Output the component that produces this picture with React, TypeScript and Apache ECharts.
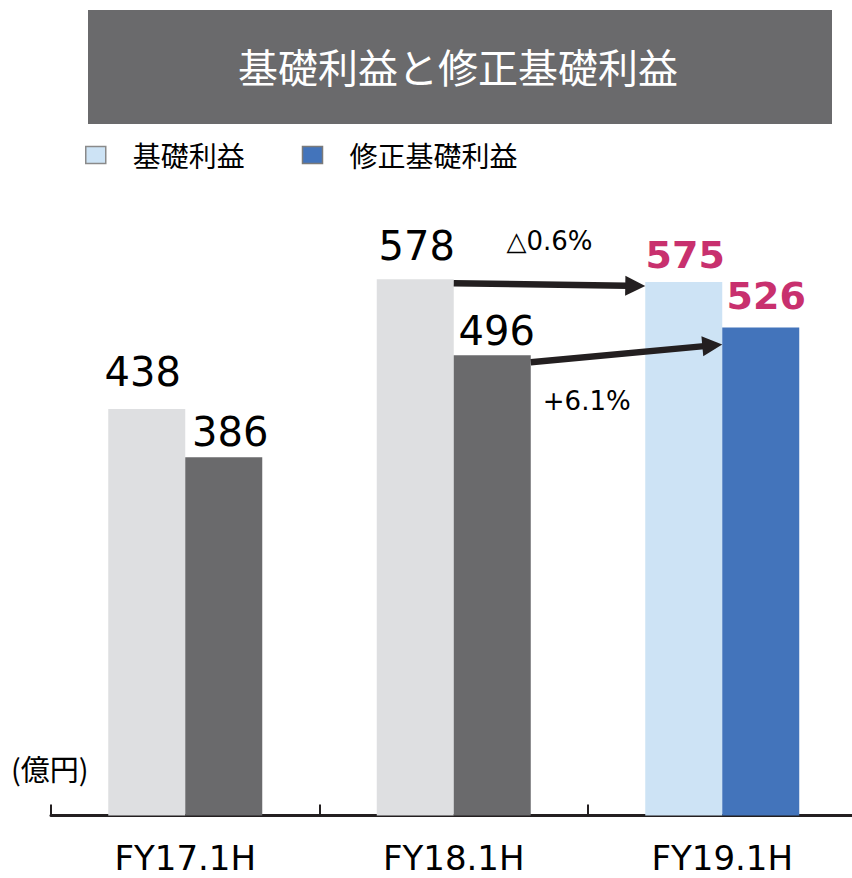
import React, { useEffect, useRef } from "react";
import * as echarts from "echarts";

const categories = ["FY17.1H", "FY18.1H", "FY19.1H"];
const basicProfit = [438, 578, 575];
const adjustedProfit = [386, 496, 526];
const changeLabels = ["△0.6%", "+6.1%"];
const titleText = "基礎利益と修正基礎利益";
const seriesNames = ["基礎利益", "修正基礎利益"];
const unitText = "(億円)";

// styling: label nudges (px) per bar, as in the source slide
const labelDx = [
  [-4, 1.5, 1.5],
  [6.5, 4.5, 5.5],
];
const labelDist = [
  [17, 13, 8],
  [5, 4, 12],
];

const BAR_W = 77;
const NUM_FONT = "'DejaVu Sans', Verdana, sans-serif";
const CJK_FONT = "'Noto Sans CJK JP', 'Noto Sans', sans-serif";

const LIGHT_GRAY = "#DEDFE1";
const DARK_GRAY = "#6A6A6C";
const LIGHT_BLUE = "#CDE3F5";
const BLUE = "#4374BB";
const MAGENTA = "#C8306E";
const INK = "#231F20";

function buildData(values: number[], s: number, pastColor: string, nowColor: string) {
  return values.map((v, i) => {
    const last = i === values.length - 1;
    return {
      value: v,
      itemStyle: { color: last ? nowColor : pastColor },
      label: {
        color: last ? MAGENTA : "#000",
        fontWeight: last ? "bold" : "normal",
        fontSize: last ? 38 : 40,
        distance: labelDist[s][i],
        offset: [labelDx[s][i], 0],
      },
    };
  });
}

function arrow(sx: number, sy: number, ex: number, ey: number) {
  const L = 20;
  const W = 10;
  const len = Math.hypot(ex - sx, ey - sy);
  const dx = (ex - sx) / len;
  const dy = (ey - sy) / len;
  const nx = -dy;
  const ny = dx;
  const bx = ex - dx * L;
  const by = ey - dy * L;
  return [
    {
      type: "line",
      shape: { x1: sx, y1: sy, x2: bx + dx * 2, y2: by + dy * 2 },
      style: { stroke: INK, lineWidth: 6.5 },
      z: 10,
    },
    {
      type: "polygon",
      shape: {
        points: [
          [ex, ey],
          [bx + nx * W, by + ny * W],
          [bx - nx * W, by - ny * W],
        ],
      },
      style: { fill: INK },
      z: 10,
    },
  ];
}

export default function App() {
  const ref = useRef<HTMLDivElement>(null);

  useEffect(() => {
    document.body.style.margin = "0";
    const chart = echarts.init(ref.current!, null, { renderer: "svg" });
    const titleRect = {
      type: "rect",
      shape: { x: 88, y: 10, width: 744, height: 114 },
      style: { fill: DARK_GRAY },
      z: -1,
    };
    const option: any = {
      animation: false,
      backgroundColor: "#fff",
      title: {
        text: titleText,
        left: 453,
        top: 41,
        textAlign: "center",
        textStyle: {
          color: "#fff",
          fontSize: 40,
          fontWeight: "normal",
          fontFamily: CJK_FONT,
        },
      },
      legend: {
        left: 85,
        top: 141,
        padding: 0,
        itemWidth: 20,
        itemHeight: 17,
        itemGap: 57,
        icon: "rect",
        textStyle: {
          fontSize: 28,
          color: "#000",
          fontFamily: CJK_FONT,
          padding: [0, 0, 0, 22],
        },
        data: [
          {
            name: seriesNames[0],
            itemStyle: { color: LIGHT_BLUE, borderColor: "#8A8A8A", borderWidth: 1.5 },
          },
          {
            name: seriesNames[1],
            itemStyle: { color: BLUE, borderColor: "#7A7A7A", borderWidth: 1.5 },
          },
        ],
      },
      grid: { left: 51, width: 805.5, top: 166, height: 649.5, containLabel: false },
      xAxis: {
        type: "category",
        data: categories,
        axisLine: { lineStyle: { color: INK, width: 3 } },
        axisTick: { show: true, inside: true, length: 11, lineStyle: { color: INK, width: 2 } },
        axisLabel: {
          color: "#000",
          fontSize: 34,
          lineHeight: 30,
          margin: 27,
          fontFamily: NUM_FONT,
        },
      },
      yAxis: { type: "value", min: 0, max: 700, show: false, splitLine: { show: false } },
      series: [
        {
          name: seriesNames[0],
          type: "bar",
          barWidth: BAR_W,
          barGap: "0%",
          itemStyle: { color: LIGHT_BLUE },
          label: { show: true, position: "top", fontFamily: NUM_FONT },
          data: buildData(basicProfit, 0, LIGHT_GRAY, LIGHT_BLUE),
        },
        {
          name: seriesNames[1],
          type: "bar",
          barWidth: BAR_W,
          barGap: "0%",
          itemStyle: { color: BLUE },
          label: { show: true, position: "top", fontFamily: NUM_FONT },
          data: buildData(adjustedProfit, 1, DARK_GRAY, BLUE),
        },
      ],
      graphic: [titleRect],
    };
    chart.setOption(option);

    const p = (cat: string, v: number) =>
      chart.convertToPixel({ gridIndex: 0 }, [cat, v]) as number[];
    const a1s = p(categories[1], basicProfit[1]);
    const a1e = p(categories[2], basicProfit[2]);
    const a2s = p(categories[1], adjustedProfit[1]);
    const a2e = p(categories[2], adjustedProfit[2]);

    const s1x = a1s[0], s1y = a1s[1] + 4;
    const e1x = a1e[0] - BAR_W, e1y = a1e[1] + 4;
    const s2x = a2s[0] + BAR_W, s2y = a2s[1] + 7;
    const e2x = a2e[0], e2y = a2e[1] + 17;

    const base = p(categories[0], 0);

    chart.setOption({
      graphic: [
        titleRect,
        ...arrow(s1x, s1y, e1x, e1y),
        ...arrow(s2x, s2y, e2x, e2y),
        {
          type: "text",
          x: (s1x + e1x) / 2,
          y: s1y - 42,
          style: {
            text: changeLabels[0],
            fill: "#000",
            font: `26px ${NUM_FONT}`,
            textAlign: "center",
            textVerticalAlign: "middle",
          },
        },
        {
          type: "text",
          x: s2x + 56,
          y: s2y + 39,
          style: {
            text: changeLabels[1],
            fill: "#000",
            font: `26px ${NUM_FONT}`,
            textAlign: "center",
            textVerticalAlign: "middle",
          },
        },
        {
          type: "text",
          x: 11,
          y: base[1] - 48,
          style: {
            text: unitText,
            fill: "#000",
            font: `29px ${CJK_FONT}`,
            textAlign: "left",
            textVerticalAlign: "middle",
          },
        },
      ],
    });

    return () => chart.dispose();
  }, []);

  return (
    <div style={{ width: 852, height: 878, overflow: "hidden", position: "relative" }}>
      <div ref={ref} style={{ width: 860, height: 878 }} />
    </div>
  );
}
